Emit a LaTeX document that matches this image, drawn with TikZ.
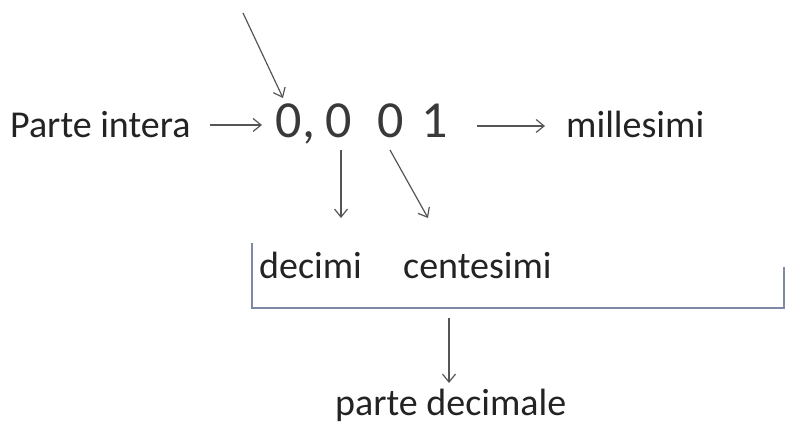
\documentclass[tikz,border=0pt]{standalone}
\usepackage{fontspec}
\setmainfont{Carlito}
\usetikzlibrary{arrows.meta}
\definecolor{txt}{RGB}{35,35,35}
\definecolor{arrc}{RGB}{85,85,85}
\definecolor{brkc}{RGB}{125,138,165}
\begin{document}
\begin{tikzpicture}[x=1pt,y=1pt,
  lbl/.style={inner sep=0pt, anchor=base west, font=\fontsize{38}{44}\selectfont, text=txt},
  dig/.style={inner sep=0pt, anchor=base west, font=\fontsize{52}{60}\selectfont, text=txt!90},
  arr/.style={draw=arrc, line width=1.2pt, -{Straight Barb[length=8pt,width=13pt,line width=1.2pt]}},
  brk/.style={draw=brkc, line width=1.4pt}]
\useasboundingbox (0,0) rectangle (788,428);
% texts
\node[lbl] (pi) at (10,290) {Parte intera};
\node[dig] (d0) at (275.5,290) {0,};
\node[dig] (d1) at (325.5,290) {0};
\node[dig] (d2) at (377.5,290) {0};
\node[dig] (d3) at (421,290) {1};
\node[lbl] (mil) at (566,290) {millesimi};
\node[lbl] (dec) at (259,149) {decimi};
\node[lbl] (cen) at (403,149) {centesimi};
\node[lbl] (pd) at (335,12) {parte decimale};
% connector end points
\coordinate (top) at (243,415);
\coordinate (piA) at ([xshift=19pt]pi.east |- 0,303);
\coordinate (d0A) at (262,303);
\coordinate (d3A) at (477,302);
\coordinate (milA) at (545,302);
\coordinate (d0T) at (283,330);
\coordinate (d1S) at (341,278);
\coordinate (d1E) at (341,210);
\coordinate (d2S) at (390,278);
\coordinate (d2E) at (428,210);
\coordinate (bL) at (252,185);
\coordinate (bBL) at (252,120);
\coordinate (bBR) at (784,120);
\coordinate (bR) at (784,161);
\coordinate (bM) at (449,110);
\coordinate (pdT) at (449,45);
% connectors
\draw[arr] (top) -- (d0T);
\draw[arr] (piA) -- (d0A);
\draw[arr] (d3A) -- (milA);
\draw[arr] (d1S) -- (d1E);
\draw[arr] (d2S) -- (d2E);
\draw[brk] (bL) -- (bBL) -- (bBR) -- (bR);
\draw[arr] (bM) -- (pdT);
\end{tikzpicture}
\end{document}
